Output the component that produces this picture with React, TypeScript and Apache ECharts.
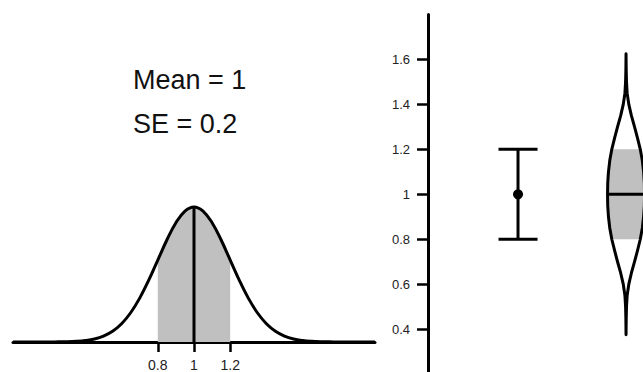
import React, { useEffect, useRef } from "react";
import * as echarts from "echarts";

// ---- data ----
const mean = 1;
const se = 0.2;
const curveX = [
  0, 0.05, 0.1, 0.15, 0.2, 0.25, 0.3, 0.35, 0.4, 0.45, 0.5, 0.55, 0.6, 0.65, 0.7, 0.75, 0.8,
  0.85, 0.9, 0.95, 1, 1.05, 1.1, 1.15, 1.2, 1.25, 1.3, 1.35, 1.4, 1.45, 1.5, 1.55, 1.6, 1.65,
  1.7, 1.75, 1.8, 1.85, 1.9, 1.95, 2,
];
const curveDensity = [
  0, 0, 0, 0, 0, 0.002, 0.004, 0.01, 0.022, 0.045, 0.088, 0.159, 0.27, 0.432, 0.648, 0.913,
  1.21, 1.506, 1.761, 1.934, 1.995, 1.934, 1.761, 1.506, 1.21, 0.913, 0.648, 0.432, 0.27,
  0.159, 0.088, 0.045, 0.022, 0.01, 0.004, 0.002, 0, 0, 0, 0, 0,
];
const xTickValues = [0.8, 1, 1.2];
const yTickValues = [0.4, 0.6, 0.8, 1, 1.2, 1.4, 1.6];
const errorBar = { mean: 1, low: 0.8, high: 1.2 };
const violinY = [
  0.375, 0.4, 0.45, 0.5, 0.55, 0.6, 0.65, 0.7, 0.75, 0.8, 0.85, 0.9, 0.95, 1, 1.05, 1.1, 1.15,
  1.2, 1.25, 1.3, 1.35, 1.4, 1.45, 1.5, 1.55, 1.6, 1.625,
];
const violinWidth = [
  0, 0.003, 0.01, 0.025, 0.06, 0.15, 0.29, 0.46, 0.62, 0.77, 0.88, 0.95, 0.99, 1, 0.99, 0.95,
  0.88, 0.77, 0.62, 0.46, 0.29, 0.15, 0.06, 0.025, 0.01, 0.003, 0,
];

const FONT = "Liberation Sans, Arial, sans-serif";

export default function App() {
  const ref = useRef<HTMLDivElement>(null);

  useEffect(() => {
    if (!ref.current) return;
    const chart = echarts.init(ref.current, undefined, { renderer: "svg" });

    const curveData = curveX.map((x, i) => [x, curveDensity[i]]);
    const shadeData = curveData.filter((p) => p[0] >= mean - se - 1e-9 && p[0] <= mean + se + 1e-9);
    const peak = curveDensity[curveX.indexOf(mean)];

    const VIOLIN_HALF = 18.5;
    const WHISKER_HALF = 19.5;

    const option: any = {
      animation: false,
      backgroundColor: "#ffffff",
      grid: [
        { left: 13, right: 268, bottom: 30, top: 193, outerBoundsMode: "none" },
        { left: 428, right: 0, top: 14.5, height: 359.6, outerBoundsMode: "none" },
      ],
      xAxis: [
        {
          gridIndex: 0,
          type: "value",
          min: 0,
          max: 2,
          axisLine: { show: true, onZero: false, lineStyle: { color: "#000", width: 3 } },
          axisTick: { show: true, customValues: xTickValues, length: 10, lineStyle: { color: "#000", width: 2.5 } },
          axisLabel: { show: true, customValues: xTickValues, color: "#222", fontSize: 14, fontFamily: FONT, margin: 16 },
          splitLine: { show: false },
        },
        {
          gridIndex: 1,
          type: "value",
          min: 0.1667,
          max: 2.157,
          show: false,
        },
      ],
      yAxis: [
        { gridIndex: 0, type: "value", min: 0, max: 2.2, show: false },
        {
          gridIndex: 1,
          type: "value",
          min: 0.2,
          max: 1.8,
          axisLine: { show: true, onZero: false, lineStyle: { color: "#000", width: 3 } },
          axisTick: { show: true, customValues: yTickValues, length: 11, lineStyle: { color: "#000", width: 2.5 } },
          axisLabel: { show: true, customValues: yTickValues, color: "#222", fontSize: 13, fontFamily: FONT, margin: 18 },
          splitLine: { show: false },
        },
      ],
      graphic: [
        {
          type: "text",
          x: 133,
          y: 80,
          style: {
            text: `Mean = ${mean}`,
            font: `27px ${FONT}`,
            fill: "#111",
            textAlign: "left",
            textVerticalAlign: "middle",
            align: "left",
            verticalAlign: "middle",
          },
        },
        {
          type: "text",
          x: 133,
          y: 124,
          style: {
            text: `SE = ${se}`,
            font: `27px ${FONT}`,
            fill: "#111",
            textAlign: "left",
            textVerticalAlign: "middle",
            align: "left",
            verticalAlign: "middle",
          },
        },
      ],
      series: [
        {
          type: "line",
          xAxisIndex: 0,
          yAxisIndex: 0,
          data: shadeData,
          symbol: "none",
          smooth: 0.4,
          lineStyle: { width: 0 },
          areaStyle: { color: "#c0c0c0", opacity: 1 },
          z: 1,
        },
        {
          type: "line",
          xAxisIndex: 0,
          yAxisIndex: 0,
          data: curveData,
          symbol: "none",
          smooth: 0.4,
          clip: false,
          lineStyle: { color: "#000", width: 3 },
          z: 3,
        },
        {
          type: "line",
          xAxisIndex: 0,
          yAxisIndex: 0,
          data: [
            [mean, 0],
            [mean, peak],
          ],
          symbol: "none",
          clip: false,
          lineStyle: { color: "#000", width: 3 },
          z: 3,
        },
        {
          type: "custom",
          xAxisIndex: 1,
          yAxisIndex: 1,
          clip: false,
          data: [[1, errorBar.mean, errorBar.low, errorBar.high]],
          renderItem: (params: any, api: any) => {
            const x = api.value(0);
            const pm = api.coord([x, api.value(1)]);
            const pl = api.coord([x, api.value(2)]);
            const ph = api.coord([x, api.value(3)]);
            const ls = { stroke: "#000", lineWidth: 3 };
            return {
              type: "group",
              children: [
                { type: "line", shape: { x1: pl[0], y1: pl[1], x2: ph[0], y2: ph[1] }, style: ls },
                { type: "line", shape: { x1: ph[0] - WHISKER_HALF, y1: ph[1], x2: ph[0] + WHISKER_HALF, y2: ph[1] }, style: ls },
                { type: "line", shape: { x1: pl[0] - WHISKER_HALF, y1: pl[1], x2: pl[0] + WHISKER_HALF, y2: pl[1] }, style: ls },
                { type: "circle", shape: { cx: pm[0], cy: pm[1], r: 5 }, style: { fill: "#000" } },
              ],
            };
          },
        },
        {
          type: "custom",
          xAxisIndex: 1,
          yAxisIndex: 1,
          clip: false,
          data: [[2, errorBar.mean, errorBar.low, errorBar.high]],
          renderItem: (params: any, api: any) => {
            const xc = api.value(0);
            const m = api.value(1);
            const lo = api.value(2);
            const hi = api.value(3);
            const right: number[][] = [];
            const left: number[][] = [];
            const shadeR: number[][] = [];
            const shadeL: number[][] = [];
            for (let i = violinY.length - 1; i >= 0; i--) {
              const p = api.coord([xc, violinY[i]]);
              const w = violinWidth[i] * VIOLIN_HALF;
              right.push([p[0] + w, p[1]]);
              if (violinY[i] >= lo - 1e-9 && violinY[i] <= hi + 1e-9) shadeR.push([p[0] + w, p[1]]);
            }
            for (let i = 0; i < violinY.length; i++) {
              const p = api.coord([xc, violinY[i]]);
              const w = violinWidth[i] * VIOLIN_HALF;
              left.push([p[0] - w, p[1]]);
              if (violinY[i] >= lo - 1e-9 && violinY[i] <= hi + 1e-9) shadeL.push([p[0] - w, p[1]]);
            }
            const pm = api.coord([xc, m]);
            const wm = violinWidth[violinY.indexOf(m)] * VIOLIN_HALF;
            return {
              type: "group",
              children: [
                {
                  type: "polygon",
                  shape: { points: shadeR.concat(shadeL), smooth: 0 },
                  style: { fill: "#c0c0c0", stroke: null },
                },
                {
                  type: "polygon",
                  shape: { points: right.concat(left), smooth: 0 },
                  style: { fill: "none", stroke: "#000", lineWidth: 3, lineJoin: "round" },
                },
                {
                  type: "line",
                  shape: { x1: pm[0] - wm, y1: pm[1], x2: pm[0] + wm, y2: pm[1] },
                  style: { stroke: "#000", lineWidth: 3 },
                },
              ],
            };
          },
        },
      ],
    };

    chart.setOption(option);
    return () => chart.dispose();
  }, []);

  return (
    <div
      ref={ref}
      style={{ position: "fixed", left: 0, top: 0, width: 643, height: 372, background: "#fff" }}
    />
  );
}
